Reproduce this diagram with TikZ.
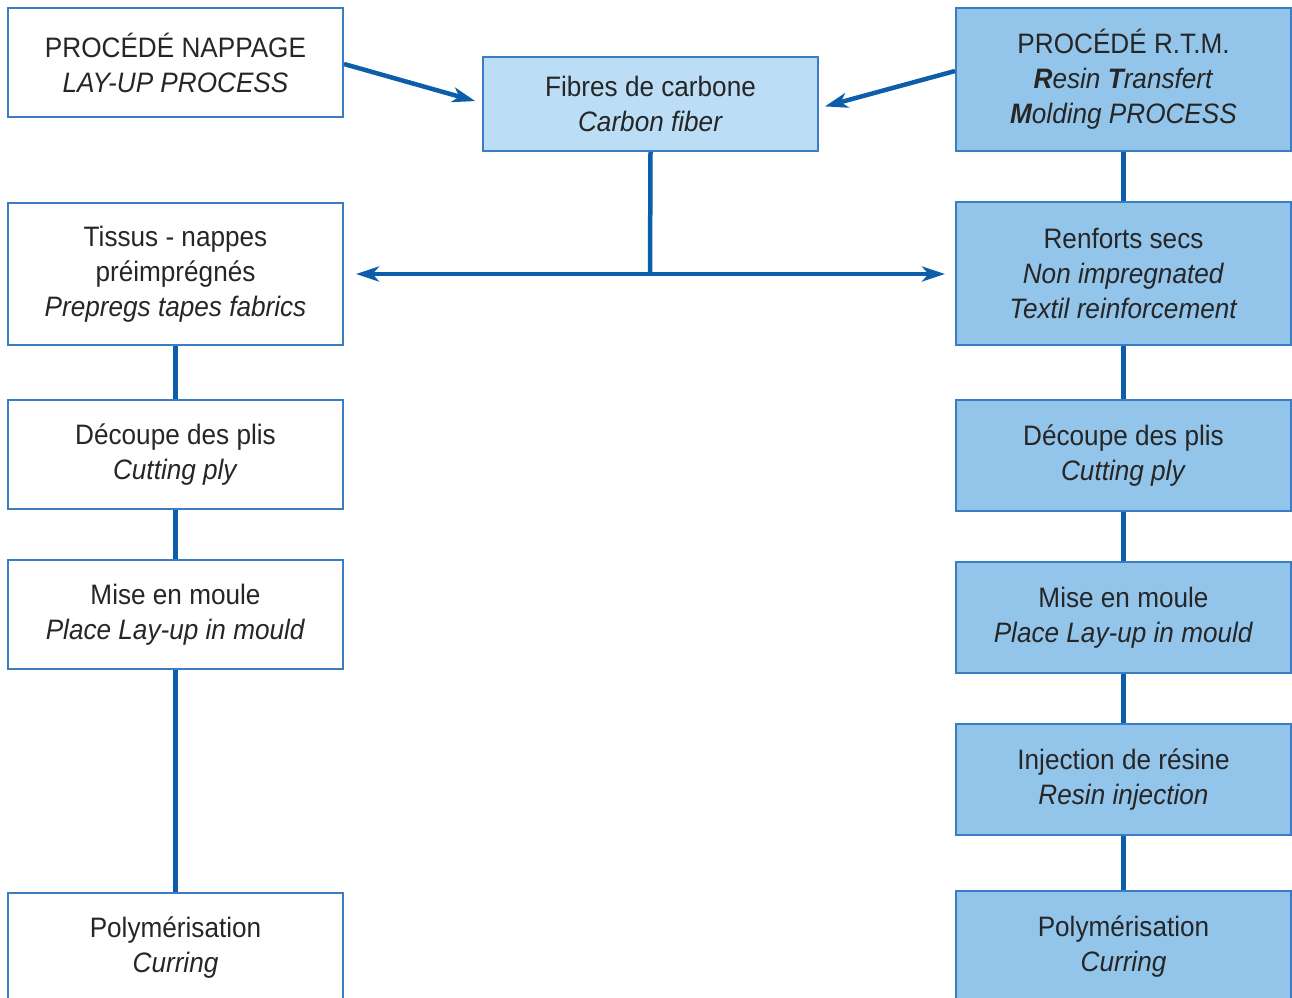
\documentclass[tikz,border=0pt]{standalone}
\usepackage{fontspec}
\setmainfont{Liberation Sans}[FakeStretch=0.93]
\usepackage{tikz}
\usetikzlibrary{arrows.meta}
\definecolor{boxline}{HTML}{3A7DC5}
\definecolor{linkblue}{HTML}{0C5DAA}
\definecolor{lightfill}{HTML}{BBDDF5}
\definecolor{rtmfill}{HTML}{93C5EB}

\begin{document}
\begin{tikzpicture}[x=0.2mm, y=-0.2mm]
    \tikzstyle{stepbox} = [rectangle, draw=boxline, line width=0.4mm, fill=white, inner sep=0pt,
        minimum width=67mm, align=center, font=\fontsize{16}{19.9}\selectfont, text=black!85]
    \tikzstyle{rtmbox} = [stepbox, fill=rtmfill]
    \tikzstyle{link} = [draw=linkblue, line width=0.9mm]
    \tikzstyle{flow} = [link, -{Stealth[length=4.6mm, width=3mm, inset=1.3mm]}]
    \useasboundingbox (0,0) rectangle (1292,997);
    % top row
    \node[stepbox, minimum height=21.8mm] (nappage) at (175.5, 62.5) {PROCÉDÉ NAPPAGE\\\textit{LAY-UP PROCESS}};
    \node[stepbox, fill=lightfill, minimum height=18.8mm] (fibres) at (650.5, 104) {Fibres de carbone\\\textit{Carbon fiber}};
    \node[rtmbox, minimum height=28.6mm] (rtm) at (1123.5, 79.5) {PROCÉDÉ R.T.M.\\\textit{\textbf{R}esin \textbf{T}ransfert}\\\textit{\textbf{M}olding PROCESS}};
    % left column
    \node[stepbox, minimum height=28.4mm] (tissus) at (175.5, 274) {Tissus - nappes\\préimprégnés\\\textit{Prepregs tapes fabrics}};
    \node[stepbox, minimum height=21.8mm] (decoupeL) at (175.5, 454.5) {Découpe des plis\\\textit{Cutting ply}};
    \node[stepbox, minimum height=21.8mm] (miseL) at (175.5, 614.5) {Mise en moule\\\textit{Place Lay-up in mould}};
    \node[stepbox, minimum height=22mm] (polyL) at (175.5, 948) {Polymérisation\\\textit{Curring}};
    % right column
    \node[rtmbox, minimum height=28.6mm] (renforts) at (1123.5, 273.5) {Renforts secs\\\textit{Non impregnated}\\\textit{Textil reinforcement}};
    \node[rtmbox, minimum height=22.2mm] (decoupeR) at (1123.5, 455.5) {Découpe des plis\\\textit{Cutting ply}};
    \node[rtmbox, minimum height=22.2mm] (miseR) at (1123.5, 617.5) {Mise en moule\\\textit{Place Lay-up in mould}};
    \node[rtmbox, minimum height=22.2mm] (injection) at (1123.5, 779.5) {Injection de résine\\\textit{Resin injection}};
    \node[rtmbox, minimum height=22.2mm] (polyR) at (1123.5, 946.5) {Polymérisation\\\textit{Curring}};
    % arrows into the fibre box
    \draw[flow, shorten >=1.4mm] ([yshift=-0.3mm]nappage.east) -- ([yshift=0.2mm]fibres.west);
    \draw[flow, shorten >=1.2mm] ([yshift=1.7mm]rtm.west) -- ([yshift=-0.8mm]fibres.east);
    % split
    \coordinate (fork) at (650, 274);
    \draw[link] (fibres.south) -- (fork);
    \draw[flow, shorten >=2.4mm] (fork) -- (fork -| tissus.east);
    \draw[flow, shorten >=2mm] (fork) -- (fork -| renforts.west);
    % chains
    \foreach \a/\b in {tissus/decoupeL, decoupeL/miseL, miseL/polyL,
        rtm/renforts, renforts/decoupeR, decoupeR/miseR, miseR/injection, injection/polyR}
        \draw[link] (\a.south) -- (\b.north);
\end{tikzpicture}
\end{document}
